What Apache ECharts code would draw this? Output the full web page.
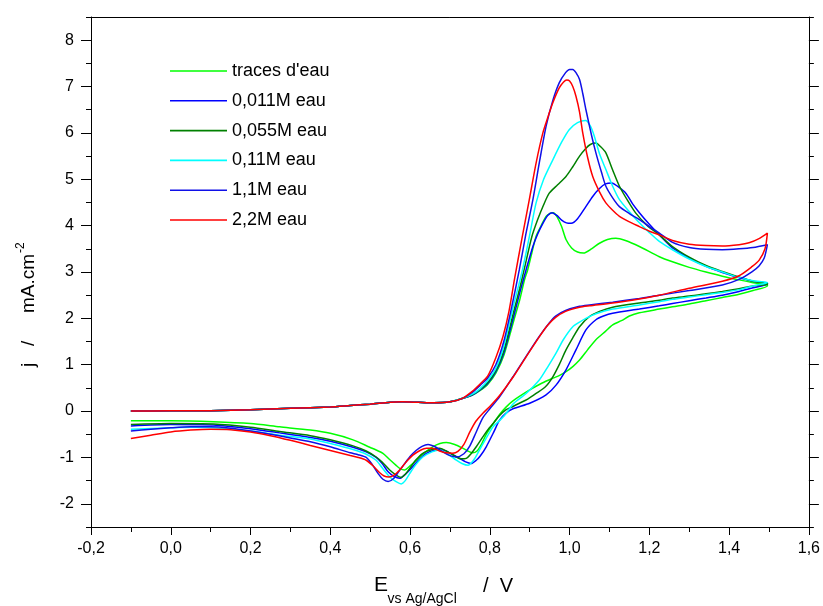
<!DOCTYPE html>
<html>
<head>
<meta charset="utf-8">
<script src="https://cdn.jsdelivr.net/npm/echarts@6.0.0/dist/echarts.min.js"></script>
<style>html,body{margin:0;padding:0;background:#fff}#c{width:823px;height:606px}</style>
</head>
<body>
<div id="c"></div>
<script>
// ---- data (E / V, j / mA.cm-2) ----
const seriesNames = ["traces d'eau", "0,011M eau", "0,055M eau", "0,11M eau", "1,1M eau", "2,2M eau"];
const seriesColors = ['#00ff00', '#0000ff', '#008000', '#00ffff', '#1010e8', '#ff0000'];

const yMajorTicks = [-2, -1, 0, 1, 2, 3, 4, 5, 6, 7, 8];
const yMinorTicks = [-2.5, -1.5, -0.5, 0.5, 1.5, 2.5, 3.5, 4.5, 5.5, 6.5, 7.5, 8.5];

// common anodic baseline (all curves overlap here)
const forwardBase = [[-0.1,0.0],[0.0,0.005],[0.1,0.01],[0.2,0.03],[0.3,0.06],[0.4,0.09],[0.45,0.12],[0.5,0.15],[0.55,0.19],[0.58,0.2],[0.62,0.19],[0.66,0.18],[0.7,0.2],[0.73,0.27]];

const tracesFwd = [[0.755,0.34],[0.775,0.44],[0.795,0.58],[0.815,0.82],[0.835,1.2],[0.86,1.95],[0.875,2.4],[0.887,2.83],[0.895,3.05],[0.905,3.4],[0.916,3.77],[0.93,4.02],[0.941,4.2],[0.952,4.27],[0.959,4.28],[0.968,4.2],[0.98,3.98],[0.991,3.7],[1.005,3.52],[1.02,3.43],[1.035,3.41],[1.055,3.5],[1.075,3.62],[1.095,3.7],[1.116,3.73],[1.14,3.68],[1.175,3.55],[1.225,3.33],[1.258,3.22],[1.3,3.1],[1.342,3.0],[1.383,2.91],[1.425,2.83],[1.46,2.77],[1.496,2.72]];
const tracesRev = [[1.496,2.7],[1.46,2.6],[1.425,2.52],[1.383,2.45],[1.342,2.38],[1.3,2.31],[1.258,2.25],[1.225,2.2],[1.175,2.12],[1.15,2.05],[1.13,1.95],[1.108,1.86],[1.09,1.72],[1.066,1.54],[1.045,1.32],[1.025,1.1],[1.008,0.96],[0.991,0.85],[0.975,0.77],[0.958,0.71],[0.93,0.6],[0.899,0.45],[0.858,0.22],[0.84,0.08],[0.824,-0.08],[0.81,-0.25],[0.791,-0.5],[0.78,-0.7],[0.768,-0.86],[0.757,-0.9],[0.745,-0.86],[0.732,-0.8],[0.712,-0.72],[0.691,-0.68],[0.675,-0.7],[0.657,-0.77],[0.636,-0.9],[0.616,-1.06],[0.6,-1.18],[0.586,-1.27],[0.575,-1.24],[0.565,-1.17],[0.548,-1.04],[0.532,-0.91],[0.515,-0.84],[0.499,-0.78],[0.457,-0.62],[0.4,-0.48],[0.35,-0.41],[0.273,-0.34],[0.2,-0.27],[0.107,-0.23],[0.0,-0.21],[-0.1,-0.21]];

const m0011Fwd = [[0.755,0.34],[0.775,0.45],[0.795,0.6],[0.815,0.85],[0.835,1.25],[0.86,2.05],[0.875,2.55],[0.891,3.05],[0.908,3.55],[0.92,3.82],[0.933,4.05],[0.945,4.22],[0.956,4.28],[0.968,4.22],[0.98,4.12],[0.992,4.06],[1.004,4.05],[1.02,4.15],[1.04,4.4],[1.058,4.63],[1.075,4.8],[1.09,4.9],[1.106,4.92],[1.12,4.85],[1.141,4.7],[1.158,4.47],[1.175,4.28],[1.2,4.03],[1.225,3.8],[1.258,3.52],[1.3,3.3],[1.342,3.12],[1.383,2.99],[1.425,2.88],[1.46,2.8],[1.496,2.76]];
const m0011Rev = [[1.496,2.74],[1.46,2.66],[1.425,2.58],[1.383,2.5],[1.342,2.44],[1.3,2.38],[1.258,2.32],[1.225,2.27],[1.175,2.2],[1.108,2.11],[1.085,2.05],[1.066,1.97],[1.041,1.75],[1.016,1.32],[0.991,0.89],[0.966,0.56],[0.941,0.35],[0.9,0.17],[0.858,0.05],[0.84,-0.05],[0.824,-0.2],[0.81,-0.45],[0.791,-0.77],[0.776,-0.97],[0.766,-1.06],[0.753,-1.13],[0.738,-1.09],[0.724,-1.02],[0.703,-0.92],[0.682,-0.84],[0.66,-0.85],[0.641,-0.91],[0.62,-1.07],[0.599,-1.27],[0.586,-1.38],[0.574,-1.45],[0.56,-1.41],[0.545,-1.31],[0.53,-1.13],[0.515,-1.0],[0.49,-0.88],[0.457,-0.78],[0.4,-0.65],[0.35,-0.57],[0.273,-0.47],[0.2,-0.38],[0.107,-0.3],[0.0,-0.29],[-0.1,-0.32]];

const m0055Fwd = [[0.755,0.35],[0.775,0.46],[0.795,0.62],[0.815,0.88],[0.835,1.3],[0.86,2.15],[0.875,2.65],[0.886,3.05],[0.905,3.75],[0.92,4.13],[0.935,4.45],[0.949,4.7],[0.97,4.88],[0.991,5.06],[1.008,5.27],[1.025,5.5],[1.04,5.66],[1.052,5.75],[1.066,5.78],[1.078,5.7],[1.091,5.57],[1.108,5.2],[1.125,4.85],[1.145,4.55],[1.166,4.27],[1.195,4.0],[1.225,3.8],[1.258,3.55],[1.3,3.32],[1.342,3.14],[1.383,3.01],[1.425,2.89],[1.46,2.8],[1.496,2.75]];
const m0055Rev = [[1.496,2.73],[1.46,2.7],[1.425,2.64],[1.383,2.58],[1.342,2.53],[1.3,2.48],[1.258,2.44],[1.225,2.39],[1.175,2.33],[1.108,2.24],[1.075,2.15],[1.05,2.04],[1.025,1.82],[1.008,1.58],[0.991,1.32],[0.975,1.02],[0.958,0.74],[0.94,0.53],[0.916,0.38],[0.895,0.26],[0.874,0.17],[0.858,0.1],[0.841,0.03],[0.824,-0.1],[0.81,-0.25],[0.799,-0.36],[0.783,-0.55],[0.766,-0.77],[0.752,-0.93],[0.741,-1.02],[0.728,-1.03],[0.716,-0.99],[0.695,-0.88],[0.674,-0.8],[0.655,-0.83],[0.632,-0.91],[0.615,-1.05],[0.599,-1.24],[0.588,-1.36],[0.578,-1.43],[0.565,-1.38],[0.549,-1.27],[0.53,-1.1],[0.515,-0.99],[0.49,-0.86],[0.457,-0.75],[0.4,-0.62],[0.35,-0.53],[0.273,-0.44],[0.2,-0.35],[0.107,-0.28],[0.0,-0.27],[-0.1,-0.29]];

const m011Fwd = [[0.755,0.36],[0.775,0.48],[0.795,0.66],[0.815,0.92],[0.835,1.4],[0.86,2.3],[0.872,2.7],[0.882,3.05],[0.9,3.8],[0.916,4.49],[0.935,5.0],[0.958,5.42],[0.98,5.8],[0.999,6.07],[1.02,6.22],[1.04,6.27],[1.052,6.15],[1.062,5.93],[1.075,5.55],[1.091,5.21],[1.108,4.85],[1.125,4.56],[1.15,4.3],[1.175,4.06],[1.2,3.85],[1.225,3.66],[1.258,3.48],[1.3,3.28],[1.342,3.12],[1.383,3.0],[1.425,2.88],[1.46,2.81],[1.496,2.77]];
const m011Rev = [[1.496,2.77],[1.46,2.7],[1.425,2.62],[1.383,2.56],[1.342,2.51],[1.3,2.46],[1.258,2.41],[1.225,2.36],[1.175,2.29],[1.108,2.2],[1.066,2.1],[1.041,2.0],[1.025,1.92],[1.008,1.82],[0.985,1.55],[0.966,1.25],[0.945,0.95],[0.924,0.67],[0.891,0.38],[0.858,0.15],[0.841,-0.05],[0.825,-0.2],[0.808,-0.34],[0.79,-0.6],[0.774,-0.84],[0.76,-1.05],[0.745,-1.17],[0.73,-1.13],[0.716,-1.06],[0.695,-0.93],[0.674,-0.84],[0.655,-0.88],[0.632,-0.99],[0.615,-1.15],[0.599,-1.35],[0.588,-1.5],[0.578,-1.57],[0.565,-1.52],[0.549,-1.42],[0.53,-1.22],[0.515,-1.06],[0.49,-0.93],[0.457,-0.83],[0.4,-0.7],[0.35,-0.6],[0.273,-0.52],[0.2,-0.43],[0.107,-0.36],[0.05,-0.35],[0.0,-0.36],[-0.1,-0.39]];

const m11Fwd = [[0.755,0.4],[0.775,0.55],[0.795,0.72],[0.815,1.0],[0.835,1.5],[0.855,2.25],[0.874,3.05],[0.89,3.8],[0.908,4.56],[0.925,5.4],[0.941,6.14],[0.958,6.7],[0.974,7.08],[0.99,7.3],[1.0,7.37],[1.008,7.37],[1.016,7.3],[1.025,7.15],[1.033,6.85],[1.041,6.5],[1.055,5.95],[1.066,5.57],[1.08,5.15],[1.091,4.85],[1.108,4.6],[1.125,4.41],[1.15,4.26],[1.175,4.13],[1.2,3.98],[1.225,3.84],[1.258,3.64],[1.3,3.53],[1.342,3.49],[1.383,3.48],[1.425,3.5],[1.46,3.53],[1.496,3.59]];
const m11Rev = [[1.496,3.59],[1.488,3.3],[1.475,3.13],[1.458,3.01],[1.425,2.84],[1.383,2.72],[1.3,2.6],[1.225,2.5],[1.175,2.43],[1.108,2.35],[1.05,2.29],[1.025,2.26],[0.99,2.17],[0.965,2.05],[0.949,1.9],[0.924,1.61],[0.891,1.18],[0.858,0.74],[0.824,0.3],[0.8,0.05],[0.782,-0.15],[0.766,-0.45],[0.75,-0.75],[0.735,-0.92],[0.716,-0.99],[0.7,-0.96],[0.682,-0.88],[0.665,-0.78],[0.645,-0.72],[0.63,-0.76],[0.615,-0.85],[0.6,-0.98],[0.585,-1.15],[0.572,-1.3],[0.558,-1.46],[0.545,-1.52],[0.532,-1.47],[0.52,-1.35],[0.505,-1.15],[0.49,-1.0],[0.47,-0.94],[0.45,-0.9],[0.4,-0.77],[0.35,-0.66],[0.3,-0.58],[0.25,-0.5],[0.2,-0.43],[0.15,-0.37],[0.1,-0.34],[0.05,-0.34],[0.0,-0.36],[-0.05,-0.39],[-0.1,-0.43]];

const m22Fwd = [[0.755,0.42],[0.775,0.58],[0.795,0.76],[0.815,1.15],[0.833,1.61],[0.848,2.15],[0.862,2.85],[0.88,3.7],[0.899,4.56],[0.916,5.35],[0.933,6.0],[0.946,6.35],[0.958,6.65],[0.974,6.97],[0.985,7.1],[0.993,7.14],[1.0,7.12],[1.008,7.0],[1.016,6.79],[1.025,6.45],[1.033,6.0],[1.045,5.48],[1.058,5.06],[1.075,4.73],[1.091,4.49],[1.108,4.33],[1.125,4.2],[1.15,4.08],[1.175,3.98],[1.2,3.88],[1.225,3.8],[1.258,3.68],[1.3,3.6],[1.342,3.57],[1.383,3.56],[1.425,3.59],[1.45,3.63],[1.475,3.72],[1.496,3.84]];
const m22Rev = [[1.496,3.84],[1.49,3.5],[1.475,3.25],[1.458,3.12],[1.425,2.92],[1.383,2.8],[1.3,2.65],[1.225,2.5],[1.175,2.42],[1.108,2.33],[1.05,2.27],[1.025,2.24],[0.99,2.15],[0.965,2.02],[0.945,1.85],[0.924,1.6],[0.891,1.17],[0.858,0.73],[0.824,0.33],[0.8,0.1],[0.782,-0.05],[0.765,-0.22],[0.75,-0.45],[0.735,-0.72],[0.72,-0.87],[0.707,-0.91],[0.69,-0.9],[0.674,-0.86],[0.655,-0.8],[0.641,-0.8],[0.625,-0.85],[0.607,-0.95],[0.59,-1.1],[0.574,-1.27],[0.56,-1.38],[0.547,-1.42],[0.535,-1.4],[0.524,-1.33],[0.507,-1.18],[0.49,-1.06],[0.47,-1.0],[0.45,-0.96],[0.4,-0.85],[0.35,-0.74],[0.3,-0.63],[0.25,-0.53],[0.2,-0.45],[0.15,-0.4],[0.1,-0.39],[0.05,-0.41],[0.0,-0.45],[-0.05,-0.52],[-0.1,-0.59]];

const curves = [
  forwardBase.concat(tracesFwd, tracesRev),
  forwardBase.concat(m0011Fwd, m0011Rev),
  forwardBase.concat(m0055Fwd, m0055Rev),
  forwardBase.concat(m011Fwd, m011Rev),
  forwardBase.concat(m11Fwd, m11Rev),
  forwardBase.concat(m22Fwd, m22Rev)
];

const FONT = '"Liberation Sans", Arial, sans-serif';
const chart = echarts.init(document.getElementById('c'), null, {renderer: 'canvas'});
const axisLineStyle = {color: '#000', width: 1};

const option = {
  animation: false,
  backgroundColor: '#fff',
  grid: {left: 91, right: 13, top: 17, bottom: 79, containLabel: false},
  legend: {
    orient: 'vertical', left: 165, top: 56,
    itemWidth: 57, itemHeight: 1.6, itemGap: 9.8,
    icon: 'rect',
    data: seriesNames,
    textStyle: {fontFamily: FONT, fontSize: 18, color: '#000', lineHeight: 20}
  },
  xAxis: [
    {
      type: 'value', position: 'bottom', min: -0.2, max: 1.6, interval: 0.2,
      axisLine: {show: true, onZero: false, lineStyle: axisLineStyle},
      axisTick: {show: true, inside: false, length: 8, lineStyle: axisLineStyle},
      minorTick: {show: true, splitNumber: 2, length: 5, lineStyle: axisLineStyle},
      splitLine: {show: false}, minorSplitLine: {show: false},
      axisLabel: {margin: 14, fontFamily: FONT, fontSize: 16, color: '#000',
        formatter: v => v.toFixed(1).replace('.', ',')}
    },
    {
      type: 'value', position: 'top', min: -0.2, max: 1.6, interval: 0.2,
      axisLine: {show: true, onZero: false, lineStyle: axisLineStyle},
      axisTick: {show: false}, axisLabel: {show: false}, splitLine: {show: false}
    }
  ],
  yAxis: [
    {
      type: 'value', position: 'left', min: -2.5, max: 8.5,
      axisLine: {show: true, onZero: false, lineStyle: axisLineStyle},
      axisTick: {show: true, inside: false, length: 10, customValues: yMajorTicks, lineStyle: axisLineStyle},
      axisLabel: {show: true, margin: 17, customValues: yMajorTicks, fontFamily: FONT, fontSize: 16, color: '#000',
        formatter: v => String(v)},
      splitLine: {show: false}
    },
    {
      type: 'value', position: 'left', min: -2.5, max: 8.5,
      axisLine: {show: false, onZero: false},
      axisTick: {show: true, inside: false, length: 5, customValues: yMinorTicks, lineStyle: axisLineStyle},
      axisLabel: {show: false}, splitLine: {show: false}
    },
    {
      type: 'value', position: 'right', min: -2.5, max: 8.5,
      axisLine: {show: true, onZero: false, lineStyle: axisLineStyle},
      axisTick: {show: true, inside: false, length: 10, customValues: yMajorTicks, lineStyle: axisLineStyle},
      axisLabel: {show: false}, splitLine: {show: false}
    },
    {
      type: 'value', position: 'right', min: -2.5, max: 8.5,
      axisLine: {show: false, onZero: false},
      axisTick: {show: true, inside: false, length: 5, customValues: yMinorTicks, lineStyle: axisLineStyle},
      axisLabel: {show: false}, splitLine: {show: false}
    }
  ],
  series: seriesNames.map((name, i) => ({
    name: name,
    type: 'line',
    xAxisIndex: 0, yAxisIndex: 0,
    data: curves[i],
    symbol: 'none', showSymbol: false,
    smooth: 0.25,
    clip: true,
    color: seriesColors[i],
    itemStyle: {color: seriesColors[i]},
    lineStyle: {color: seriesColors[i], width: 1.5}
  })),
  graphic: [
    {type: 'text', x: 374, y: 585, style: {text: 'E', font: '21px ' + FONT, fill: '#000', textAlign: 'left', textVerticalAlign: 'middle'}},
    {type: 'text', x: 387.5, y: 599, style: {text: 'vs Ag/AgCl', font: '14px ' + FONT, fill: '#000', textAlign: 'left', textVerticalAlign: 'middle'}},
    {type: 'text', x: 483, y: 586, style: {text: '/  V', font: '20px ' + FONT, fill: '#000', textAlign: 'left', textVerticalAlign: 'middle'}},
    {type: 'text', x: 29, y: 367, rotation: Math.PI / 2, style: {text: 'j', font: '19px ' + FONT, fill: '#000', textAlign: 'left', textVerticalAlign: 'middle'}},
    {type: 'text', x: 29, y: 346, rotation: Math.PI / 2, style: {text: '/', font: '19px ' + FONT, fill: '#000', textAlign: 'left', textVerticalAlign: 'middle'}},
    {type: 'text', x: 29, y: 313, rotation: Math.PI / 2, style: {text: 'mA.cm', font: '19px ' + FONT, fill: '#000', textAlign: 'left', textVerticalAlign: 'middle'}},
    {type: 'text', x: 21, y: 253, rotation: Math.PI / 2, style: {text: '-2', font: '12px ' + FONT, fill: '#000', textAlign: 'left', textVerticalAlign: 'middle'}}
  ]
};
chart.setOption(option);
</script>
</body>
</html>
